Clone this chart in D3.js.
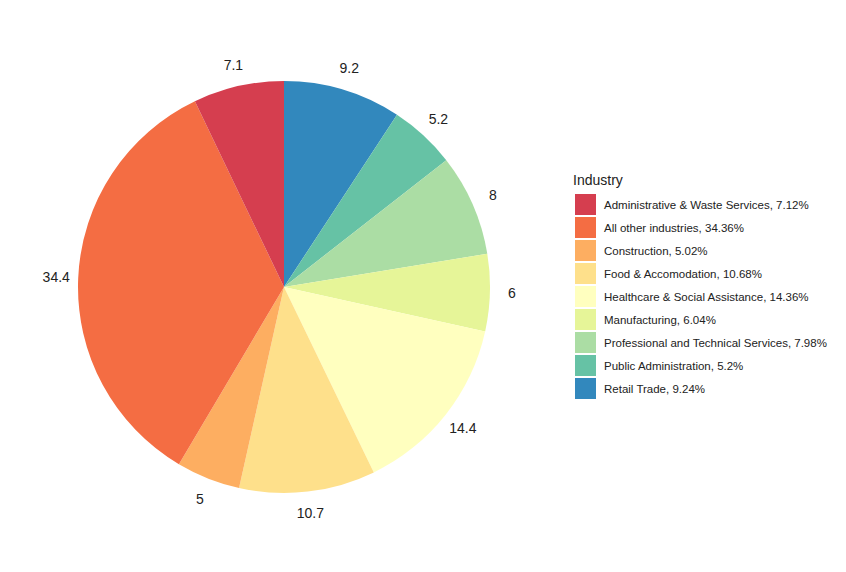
<!DOCTYPE html>
<html lang="en">
  <head>
    <meta charset="utf-8">
    <title>Industry pie</title>
    <script src="https://cdn.jsdelivr.net/npm/d3@7"></script>
    <style>
      body { margin: 0; background: #fff; font-family: Arial, "Liberation Sans", sans-serif; }
    </style>
  </head>
  <body>
    <svg id="chart" width="846" height="572"></svg>
    <script>
      // data, in legend order
      var industries = ["Administrative & Waste Services", "All other industries", "Construction",
        "Food & Accomodation", "Healthcare & Social Assistance", "Manufacturing",
        "Professional and Technical Services", "Public Administration", "Retail Trade"];
      var shares = [7.12, 34.36, 5.02, 10.68, 14.36, 6.04, 7.98, 5.2, 9.24];
      var colours = ["#D53E4F", "#F46D43", "#FDAE61", "#FEE08B", "#FFFFBF",
        "#E6F598", "#ABDDA4", "#66C2A5", "#3288BD"];

      var svg = d3.select("#chart");
      var cx = 284, cy = 287, r = 206;

      var rows = industries.map(function(n, i) { return {name: n, value: shares[i], colour: colours[i]}; });

      // ggplot draws last level first going clockwise from 12 o'clock
      var pie = d3.pie().sort(null).value(function(d) { return d.value; });
      var arcs = pie(rows.slice().reverse());
      var arc = d3.arc().innerRadius(0).outerRadius(r);
      var labelArc = d3.arc().innerRadius(228).outerRadius(228);

      var g = svg.append("g").attr("transform", "translate(" + cx + "," + cy + ")");
      g.selectAll("path").data(arcs).enter().append("path")
        .attr("d", arc).attr("fill", function(d) { return d.data.colour; });
      g.selectAll("text").data(arcs).enter().append("text")
        .attr("transform", function(d) { return "translate(" + labelArc.centroid(d) + ")"; })
        .attr("text-anchor", "middle").attr("dy", "0.35em")
        .attr("font-size", 14).attr("fill", "#222")
        .text(function(d) { return Math.round(d.data.value * 10) / 10; });

      // legend
      var lg = svg.append("g").attr("transform", "translate(575,0)");
      lg.append("text").attr("x", -2).attr("y", 185).attr("font-size", 14).attr("fill", "#222").text("Industry");
      var item = lg.selectAll("g.item").data(rows).enter().append("g")
        .attr("transform", function(d, i) { return "translate(0," + (194 + i * 23) + ")"; });
      item.append("rect").attr("width", 21).attr("height", 21).attr("fill", function(d) { return d.colour; });
      item.append("text").attr("x", 29).attr("y", 11).attr("dy", "0.35em")
        .attr("font-size", 11.5).attr("fill", "#222")
        .text(function(d) { return d.name + ", " + d.value + "%"; });
    </script>
  </body>
</html>
